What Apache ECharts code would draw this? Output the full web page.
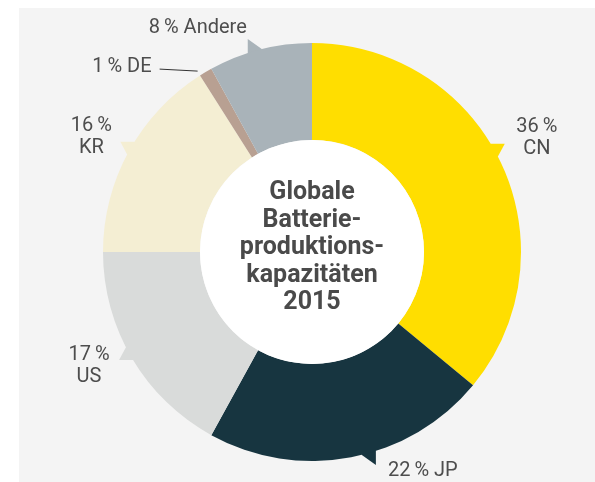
<!DOCTYPE html>
<html>
<head>
<meta charset="utf-8">
<script src="https://cdn.jsdelivr.net/npm/echarts@6/dist/echarts.min.js"></script>
<style>
  html, body { margin: 0; padding: 0; background: #fff; }
  #main {
    position: absolute;
    left: 19px;
    top: 8px;
    width: 576px;
    height: 474px;
    background: #f4f4f4;
  }
</style>
</head>
<body>
<div id="main"></div>
<script>
// Anteile der globalen Batterieproduktionskapazitäten 2015
const categories = ['CN', 'JP', 'US', 'KR', 'DE', 'Andere']
const shares = [36, 22, 17, 16, 1, 8]
const sliceColors = ['#FFDE00', '#173540', '#D9DBDA', '#F4EED3', '#B8A092', '#A9B3B9']
const centerTitle = ['Globale', 'Batterie-', 'produktions-', 'kapazitäten', '2015']

// Geometrie des Rings (px im Chart-Container)
const CX = 293
const CY = 244
const R_OUT = 209
const R_IN = 112
const RAD = Math.PI / 180
const TEXT_COLOR = '#4d4d4d'

// Beschriftung / Sprechblasen-Spitzen je Kategorie
const callouts = {
  CN: { shift: -4, dx: 32, dy: -6, align: 'center', sep: '\n' },
  JP: { shift: -5, dx: 12, dy: 6, align: 'left', sep: ' ' },
  US: { shift: 1.5, dx: -30, dy: 6, align: 'center', sep: '\n' },
  KR: { shift: 1, dx: -29, dy: -5, align: 'center', sep: '\n' },
  DE: { leader: true, sep: ' ' },
  Andere: { shift: -1.5, dx: -1, dy: -11, align: 'right', sep: ' ' },
}

const total = shares.reduce((a, b) => a + b, 0)
const midAngles = []
let acc = 0
shares.forEach((v) => {
  midAngles.push(((acc + v / 2) / total) * 360)
  acc += v
})

// Winkel von oben im Uhrzeigersinn
const pt = (deg, r) => [CX + r * Math.sin(deg * RAD), CY - r * Math.cos(deg * RAD)]

const labelStyle = (text, align) => ({
  text,
  fill: TEXT_COLOR,
  fontSize: 20,
  fontFamily: 'Roboto',
  lineHeight: 22,
  align,
  verticalAlign: 'middle',
})

const renderCallout = (params) => {
  const i = params.dataIndex
  const name = categories[i]
  const c = callouts[name]
  const theta = midAngles[i]
  const text = shares[i] + '\u2009%' + c.sep + name

  if (c.leader) {
    const anchor = pt(theta, R_OUT)
    return {
      type: 'group',
      children: [
        {
          type: 'line',
          shape: {
            x1: anchor[0] - 8, y1: anchor[1] - 1,
            x2: anchor[0] - 46, y2: anchor[1] - 3,
          },
          style: { stroke: '#333', lineWidth: 1 },
        },
        {
          type: 'text',
          x: anchor[0] - 54,
          y: anchor[1] - 5,
          style: labelStyle(text, 'right'),
        },
      ],
    }
  }

  const tc = theta + c.shift
  const s = Math.sin(tc * RAD)
  const co = Math.cos(tc * RAD)
  const dir = Math.abs(s) > Math.abs(co) ? [Math.sign(s), 0] : [0, -Math.sign(co)]
  const proj = (deg) => Math.sin(deg * RAD) * dir[0] - Math.cos(deg * RAD) * dir[1]
  const a1 = tc - 2
  const a2 = tc + 2
  const [aA, aB] = proj(a1) < proj(a2) ? [a1, a2] : [a2, a1]
  const A = pt(aA, R_OUT)
  const tip = [A[0] + dir[0] * 14, A[1] + dir[1] * 14]

  return {
    type: 'group',
    children: [
      {
        type: 'polygon',
        shape: { points: [pt(aA, R_OUT - 6), A, tip, pt(aB, R_OUT), pt(aB, R_OUT - 6)] },
        style: { fill: sliceColors[i] },
      },
      {
        type: 'text',
        x: tip[0] + c.dx,
        y: tip[1] + c.dy,
        style: labelStyle(text, c.align),
      },
    ],
  }
}

const chart = echarts.init(document.getElementById('main'))
chart.setOption({
  animation: false,
  backgroundColor: '#f4f4f4',
  series: [
    {
      type: 'custom',
      coordinateSystem: 'none',
      silent: true,
      z: 1,
      data: shares,
      renderItem: renderCallout,
    },
    {
      type: 'pie',
      silent: true,
      z: 2,
      center: [CX, CY],
      radius: [R_IN, R_OUT],
      startAngle: 90,
      clockwise: true,
      label: { show: false },
      labelLine: { show: false },
      itemStyle: { borderWidth: 0 },
      emphasis: { disabled: true },
      data: categories.map((name, i) => ({
        name,
        value: shares[i],
        itemStyle: { color: sliceColors[i] },
      })),
    },
    {
      type: 'pie',
      silent: true,
      z: 3,
      center: [CX, CY],
      radius: [0, R_IN],
      label: {
        show: true,
        position: 'center',
        formatter: centerTitle.join('\n'),
        fontSize: 25,
        fontWeight: 'bold',
        fontFamily: 'Roboto',
        lineHeight: 27.5,
        color: '#4a4a4a',
        offset: [0, -4],
      },
      labelLine: { show: false },
      emphasis: { disabled: true },
      data: [{ value: 1, name: 'Titel', itemStyle: { color: '#ffffff' } }],
    },
  ],
})
</script>
</body>
</html>
